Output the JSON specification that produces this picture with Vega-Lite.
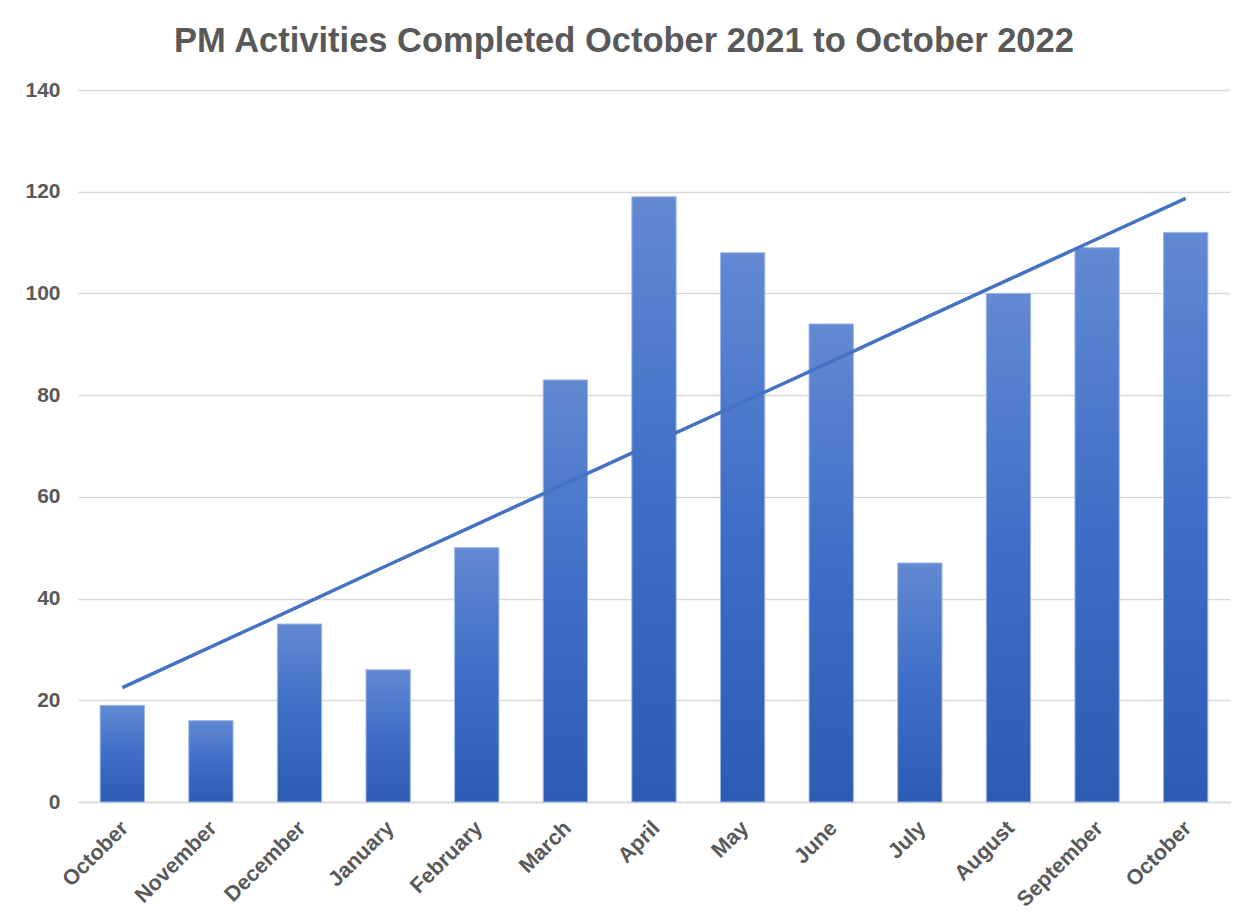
{
  "$schema": "https://vega.github.io/schema/vega-lite/v6.json",
  "autosize": {"type": "none"},
  "width": 1152,
  "height": 712,
  "padding": {"left": 78, "top": 90, "right": 19, "bottom": 118},
  "background": "white",
  "config": {"view": {"stroke": null}},
  "title": {
    "text": "PM Activities Completed October 2021 to October 2022",
    "font": "Liberation Sans",
    "fontSize": 34.5,
    "fontWeight": "bold",
    "color": "#595959",
    "anchor": "middle",
    "dx": -30,
    "offset": 20
  },
  "data": {
    "values": [
      {"month": "October 2021", "value": 19, "trend": 22.5},
      {"month": "November 2021", "value": 16, "trend": 30.5},
      {"month": "December 2021", "value": 35, "trend": 38.5},
      {"month": "January 2022", "value": 26, "trend": 46.6},
      {"month": "February 2022", "value": 50, "trend": 54.6},
      {"month": "March 2022", "value": 83, "trend": 62.6},
      {"month": "April 2022", "value": 119, "trend": 70.6},
      {"month": "May 2022", "value": 108, "trend": 78.6},
      {"month": "June 2022", "value": 94, "trend": 86.6},
      {"month": "July 2022", "value": 47, "trend": 94.7},
      {"month": "August 2022", "value": 100, "trend": 102.7},
      {"month": "September 2022", "value": 109, "trend": 110.7},
      {"month": "October 2022", "value": 112, "trend": 118.7}
    ]
  },
  "encoding": {
    "x": {
      "field": "month",
      "type": "nominal",
      "sort": null,
      "scale": {"paddingInner": 0.5, "paddingOuter": 0.25},
      "axis": {
        "title": null,
        "labelExpr": "split(datum.value, ' ')[0]",
        "labelAngle": -45,
        "labelFont": "Liberation Sans",
        "labelFontSize": 21.5,
        "labelFontWeight": "bold",
        "labelColor": "#595959",
        "labelPadding": 15,
        "labelOffset": -5,
        "ticks": false,
        "domainColor": "#d9d9d9",
        "domainWidth": 1.5,
        "grid": false
      }
    }
  },
  "layer": [
    {
      "mark": {
        "type": "bar",
        "stroke": "#9fb6e4",
        "strokeWidth": 1,
        "color": {
          "gradient": "linear",
          "x1": 0, "y1": 0, "x2": 0, "y2": 1,
          "stops": [
            {"offset": 0, "color": "#6289d2"},
            {"offset": 0.5, "color": "#3e6ec7"},
            {"offset": 1, "color": "#2d5cb4"}
          ]
        }
      },
      "encoding": {
        "y": {
          "field": "value",
          "type": "quantitative",
          "scale": {"domain": [0, 140]},
          "axis": {
            "title": null,
            "values": [0, 20, 40, 60, 80, 100, 120, 140],
            "labelFont": "Liberation Sans",
            "labelFontSize": 21,
            "labelFontWeight": "bold",
            "labelColor": "#595959",
            "labelPadding": 18,
            "ticks": false,
            "domain": false,
            "gridColor": "#d9d9d9",
            "gridWidth": 1.5
          }
        }
      }
    },
    {
      "mark": {"type": "line", "color": "#4472c4", "strokeWidth": 3.5},
      "encoding": {
        "y": {"field": "trend", "type": "quantitative"}
      }
    }
  ]
}
